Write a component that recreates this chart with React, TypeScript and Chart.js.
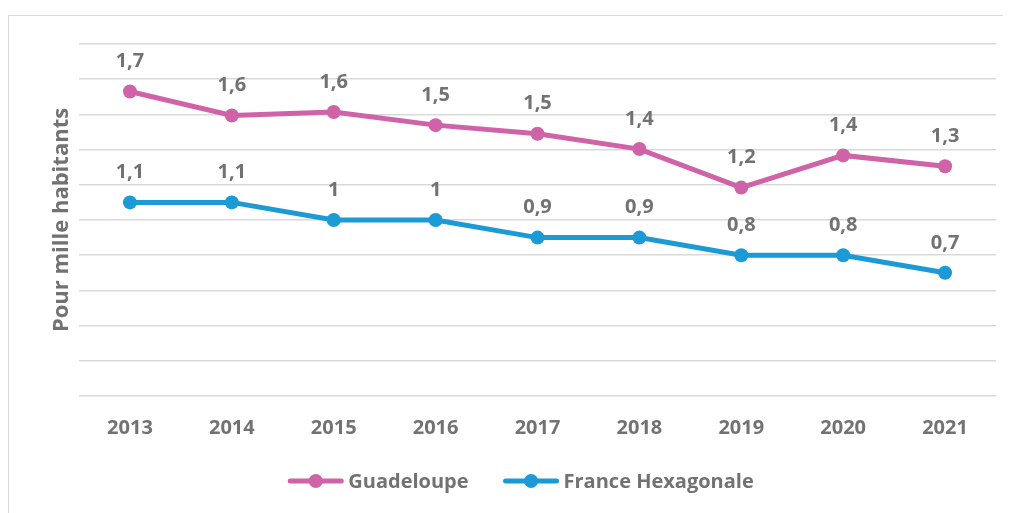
import React, { useEffect, useRef } from "react";
import { Chart, registerables } from "chart.js";

Chart.register(...registerables);

const years = ["2013", "2014", "2015", "2016", "2017", "2018", "2019", "2020", "2021"];
const guadeloupe = [1.73, 1.594, 1.614, 1.539, 1.49, 1.403, 1.184, 1.367, 1.305];
const franceHexagonale = [1.1, 1.1, 1.0, 1.0, 0.9, 0.9, 0.8, 0.8, 0.7];
const seriesNames = ["Guadeloupe", "France Hexagonale"];
const seriesColors = ["#d062a7", "#1b9ad6"];
const yTitle = "Pour mille habitants";

const FONT = "'Open Sans', 'DejaVu Sans', sans-serif";
const GREY = "#727272";

const fmt = (v: number) => {
  const r = Math.round(v * 10) / 10;
  return r.toLocaleString("fr-FR", { maximumFractionDigits: 1 });
};

const dataLabelPlugin = {
  id: "dataLabels",
  afterDatasetsDraw(chart: any) {
    const ctx = chart.ctx;
    ctx.save();
    ctx.font = `bold 20px ${FONT}`;
    ctx.fillStyle = GREY;
    ctx.textAlign = "center";
    ctx.textBaseline = "middle";
    chart.data.datasets.forEach((ds: any, i: number) => {
      const meta = chart.getDatasetMeta(i);
      meta.data.forEach((pt: any, j: number) => {
        ctx.fillText(fmt(ds.data[j]), pt.x, pt.y - 30);
      });
    });
    ctx.restore();
  },
};

const legendPlugin = {
  id: "customLegend",
  afterDraw(chart: any) {
    const ctx = chart.ctx;
    ctx.save();
    ctx.font = `bold 20px ${FONT}`;
    const lineW = 55;
    const gapText = 5;
    const gapItem = 35;
    const items = chart.data.datasets.map((ds: any) => ({
      label: ds.label,
      color: ds.borderColor,
      w: lineW + gapText + ctx.measureText(ds.label).width,
    }));
    const total = items.reduce((s: number, it: any) => s + it.w, 0) + gapItem * (items.length - 1);
    let x = chart.width / 2 + 15 - total / 2;
    const y = 465;
    items.forEach((it: any) => {
      ctx.strokeStyle = it.color;
      ctx.lineWidth = 5;
      ctx.lineCap = "round";
      ctx.beginPath();
      ctx.moveTo(x + 2, y);
      ctx.lineTo(x + lineW - 2, y);
      ctx.stroke();
      ctx.fillStyle = it.color;
      ctx.beginPath();
      ctx.arc(x + lineW / 2, y, 7, 0, Math.PI * 2);
      ctx.fill();
      ctx.fillStyle = GREY;
      ctx.textAlign = "left";
      ctx.textBaseline = "middle";
      ctx.fillText(it.label, x + lineW + gapText, y + 1);
      x += it.w + gapItem;
    });
    ctx.restore();
  },
};

export default function App() {
  const canvasRef = useRef<HTMLCanvasElement | null>(null);

  useEffect(() => {
    if (!canvasRef.current) return;
    const chart = new Chart(canvasRef.current, {
      type: "line",
      data: {
        labels: years,
        datasets: [guadeloupe, franceHexagonale].map((d, i) => ({
          label: seriesNames[i],
          data: d,
          borderColor: seriesColors[i],
          backgroundColor: seriesColors[i],
          pointBackgroundColor: seriesColors[i],
          pointBorderColor: seriesColors[i],
          borderWidth: 5,
          pointRadius: 7,
          pointBorderWidth: 0,
          tension: 0,
          fill: false,
        })),
      },
      options: {
        animation: false,
        responsive: true,
        maintainAspectRatio: false,
        layout: { padding: { left: 30, right: 6, top: 28, bottom: 0 } },
        plugins: {
          legend: { display: false },
          tooltip: { enabled: false },
          title: { display: false },
        },
        scales: {
          x: {
            offset: true,
            grid: { display: false, drawTicks: false },
            border: { display: false },
            ticks: {
              color: GREY,
              font: { family: FONT, size: 20, weight: "bold" },
              padding: 20,
              maxRotation: 0,
            },
            afterFit: (scale: any) => {
              scale.height = 117;
            },
          },
          y: {
            min: 0,
            max: 2,
            ticks: { display: false, stepSize: 0.2 },
            grid: { color: "#d9d9d9", lineWidth: 1.5, drawTicks: false },
            border: { display: false },
            title: {
              display: true,
              text: yTitle,
              color: GREY,
              font: { family: FONT, size: 22, weight: "bold" },
              padding: { top: 10, bottom: 0 },
            },
            afterFit: (scale: any) => {
              scale.width = 40;
            },
          },
        },
      },
      plugins: [dataLabelPlugin, legendPlugin],
    } as any);
    return () => chart.destroy();
  }, []);

  return (
    <div
      style={{
        marginTop: 7,
        height: 498,
        borderTop: "1px solid #d9d9d9",
        borderLeft: "1px solid #d9d9d9",
        boxSizing: "border-box",
        background: "#fff",
        position: "relative",
      }}
    >
      <canvas ref={canvasRef} />
    </div>
  );
}
